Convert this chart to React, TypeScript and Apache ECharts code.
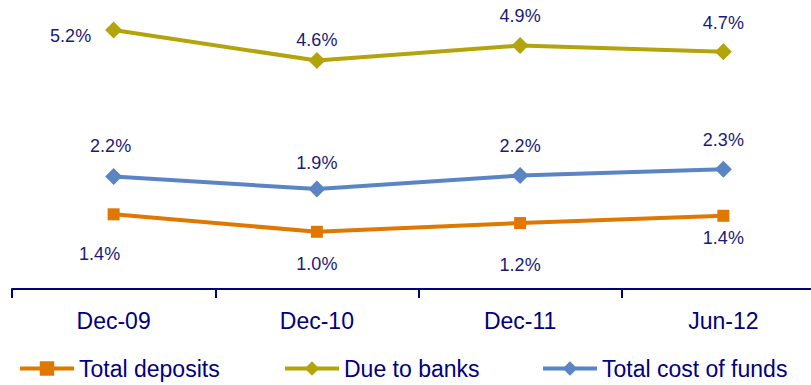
import React, { useEffect, useRef } from "react";
import * as echarts from "echarts";

const categories = ["Dec-09", "Dec-10", "Dec-11", "Jun-12"];
const totalDeposits = [1.39, 1.03, 1.21, 1.36];
const dueToBanks = [5.19, 4.56, 4.87, 4.74];
const totalCostOfFunds = [2.17, 1.91, 2.19, 2.32];

// label placement (offset of label centre from the point, px)
const depositsLabelOffsets = [[-14, 40], [0, 32], [0, 42], [0, 22]];
const dueLabelOffsets = [[-43, 6], [0, -21], [0, -30], [0, -29]];
const costLabelOffsets = [[-3, -30], [0, -26], [0, -30], [0, -29]];

const FONT = "'Liberation Sans', Arial, sans-serif";
const NAVY = "#000080";
const LABEL_COLOR = "#1a1a7a";

function buildData(values: number[], offsets: number[][]) {
  return values.map((v, i) => ({
    value: v,
    label: { offset: offsets[i] },
  }));
}

export default function App() {
  const ref = useRef<HTMLDivElement>(null);
  useEffect(() => {
    if (!ref.current) return;
    document.body.style.margin = "0";
    const chart = echarts.init(ref.current, null, { renderer: "svg" });
    const mkSeries = (name: string, values: number[], offsets: number[][], color: string, symbol: string, size: number) => ({
      name,
      type: "line",
      data: buildData(values, offsets),
      symbol,
      symbolSize: size,
      lineStyle: { color, width: 4 },
      itemStyle: { color },
      label: {
        show: true,
        position: "inside",
        color: LABEL_COLOR,
        fontFamily: FONT,
        fontSize: 18,
        formatter: (p: any) => `${Number(p.value).toFixed(1)}%`,
      },
    });
    const legendBase = {
      top: 352,
      padding: 5,
      itemWidth: 54,
      itemHeight: 18,
      itemGap: 4,
      lineStyle: { width: 4 },
      textStyle: { color: NAVY, fontFamily: FONT, fontSize: 23 },
    };
    chart.setOption({
      animation: false,
      grid: { left: 12, right: -14, top: 15, height: 274, outerBoundsMode: "none", containLabel: false },
      xAxis: {
        type: "category",
        data: categories,
        boundaryGap: true,
        axisLine: { onZero: false, lineStyle: { color: NAVY, width: 2 } },
        axisTick: { show: true, length: 9, lineStyle: { color: NAVY, width: 2 } },
        axisLabel: { color: NAVY, fontFamily: FONT, fontSize: 23, margin: 20 },
      },
      yAxis: {
        type: "value",
        min: -0.15,
        max: 5.5,
        show: false,
        splitLine: { show: false },
      },
      legend: [
        { ...legendBase, left: 13, data: ["Total deposits"] },
        { ...legendBase, left: 278, data: ["Due to banks"] },
        { ...legendBase, left: 536, data: ["Total cost of funds"] },
      ],
      series: [
        mkSeries("Total deposits", totalDeposits, depositsLabelOffsets, "#E07800", "rect", 12),
        mkSeries("Due to banks", dueToBanks, dueLabelOffsets, "#B3A40B", "diamond", 17),
        mkSeries("Total cost of funds", totalCostOfFunds, costLabelOffsets, "#5A84C4", "diamond", 17),
      ],
    });
    return () => chart.dispose();
  }, []);
  return <div ref={ref} style={{ width: 811, height: 385 }} />;
}
